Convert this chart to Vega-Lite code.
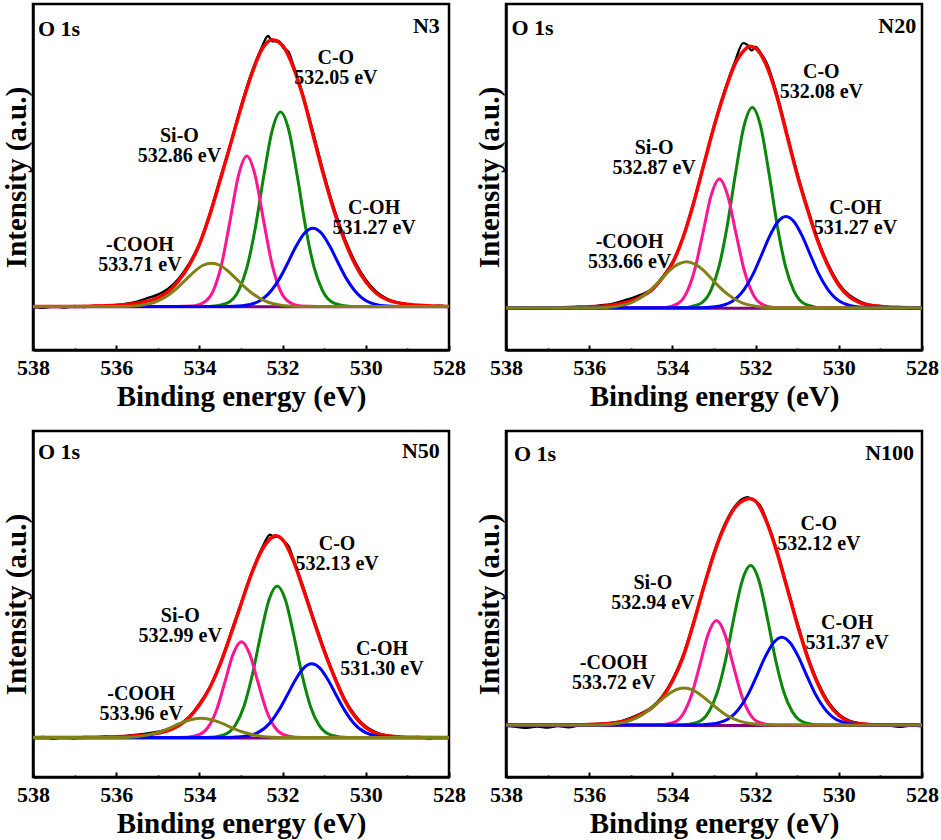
{
  "$schema": "https://vega.github.io/schema/vega-lite/v6.json",
  "padding": {"left": 0, "top": 2, "right": 0, "bottom": 0},
  "background": "white",
  "datasets": {
    "xps": [
      {"p":"N3","s":"k","e":538,"v":12.5},{"p":"N3","s":"k","e":537.75,"v":12.2},{"p":"N3","s":"k","e":537.5,"v":12.6},{"p":"N3","s":"k","e":537.25,"v":12.3},{"p":"N3","s":"k","e":537,"v":12.7},{"p":"N3","s":"k","e":536.75,"v":12.4},{"p":"N3","s":"k","e":536.5,"v":12.8},{"p":"N3","s":"k","e":536.25,"v":12.6},{"p":"N3","s":"k","e":536,"v":13.0},{"p":"N3","s":"k","e":535.75,"v":13.4},{"p":"N3","s":"k","e":535.5,"v":14.0},{"p":"N3","s":"k","e":535.25,"v":15.0},{"p":"N3","s":"k","e":535,"v":16.0},{"p":"N3","s":"k","e":534.75,"v":17.7},{"p":"N3","s":"k","e":534.5,"v":20.6},{"p":"N3","s":"k","e":534.25,"v":24.9},{"p":"N3","s":"k","e":534,"v":30.8},{"p":"N3","s":"k","e":533.75,"v":39.5},{"p":"N3","s":"k","e":533.5,"v":49.6},{"p":"N3","s":"k","e":533.25,"v":59.8},{"p":"N3","s":"k","e":533,"v":70.5},{"p":"N3","s":"k","e":532.75,"v":80.0},{"p":"N3","s":"k","e":532.5,"v":87.5},{"p":"N3","s":"k","e":532.35,"v":90.8},{"p":"N3","s":"k","e":532.25,"v":89.2},{"p":"N3","s":"k","e":532.1,"v":89.3},{"p":"N3","s":"k","e":532,"v":87.6},{"p":"N3","s":"k","e":531.85,"v":86.0},{"p":"N3","s":"k","e":531.75,"v":82.6},{"p":"N3","s":"k","e":531.5,"v":73.3},{"p":"N3","s":"k","e":531.25,"v":62.1},{"p":"N3","s":"k","e":531,"v":50.6},{"p":"N3","s":"k","e":530.75,"v":40.4},{"p":"N3","s":"k","e":530.5,"v":32.0},{"p":"N3","s":"k","e":530.25,"v":25.3},{"p":"N3","s":"k","e":530,"v":20.3},{"p":"N3","s":"k","e":529.75,"v":16.9},{"p":"N3","s":"k","e":529.5,"v":14.9},{"p":"N3","s":"k","e":529.25,"v":13.8},{"p":"N3","s":"k","e":529,"v":13.1},{"p":"N3","s":"k","e":528.75,"v":12.8},{"p":"N3","s":"k","e":528.5,"v":12.5},{"p":"N3","s":"k","e":528.25,"v":12.8},{"p":"N3","s":"k","e":528,"v":12.4},
      {"p":"N3","s":"r","e":538,"v":12.6},{"p":"N3","s":"r","e":537,"v":12.6},{"p":"N3","s":"r","e":536.5,"v":12.7},{"p":"N3","s":"r","e":536,"v":12.9},{"p":"N3","s":"r","e":535.5,"v":13.5},{"p":"N3","s":"r","e":535,"v":15.1},{"p":"N3","s":"r","e":534.75,"v":16.9},{"p":"N3","s":"r","e":534.5,"v":20.0},{"p":"N3","s":"r","e":534.25,"v":24.4},{"p":"N3","s":"r","e":534,"v":30.5},{"p":"N3","s":"r","e":533.75,"v":39.0},{"p":"N3","s":"r","e":533.5,"v":49.1},{"p":"N3","s":"r","e":533.25,"v":59.5},{"p":"N3","s":"r","e":533,"v":70.0},{"p":"N3","s":"r","e":532.75,"v":79.5},{"p":"N3","s":"r","e":532.5,"v":86.8},{"p":"N3","s":"r","e":532.25,"v":89.7},{"p":"N3","s":"r","e":532,"v":88.0},{"p":"N3","s":"r","e":531.75,"v":82.0},{"p":"N3","s":"r","e":531.5,"v":72.8},{"p":"N3","s":"r","e":531.25,"v":61.3},{"p":"N3","s":"r","e":531,"v":49.9},{"p":"N3","s":"r","e":530.75,"v":39.7},{"p":"N3","s":"r","e":530.5,"v":31.3},{"p":"N3","s":"r","e":530.25,"v":24.6},{"p":"N3","s":"r","e":530,"v":19.7},{"p":"N3","s":"r","e":529.75,"v":16.4},{"p":"N3","s":"r","e":529.5,"v":14.6},{"p":"N3","s":"r","e":529,"v":13.2},{"p":"N3","s":"r","e":528.5,"v":12.8},{"p":"N3","s":"r","e":528,"v":12.6},
      {"p":"N3","s":"bg","e":538,"v":12.5},{"p":"N3","s":"bg","e":528,"v":12.5},
      {"p":"N3","s":"co","e":528,"v":12.6},{"p":"N3","s":"co","e":530.35,"v":12.6},{"p":"N3","s":"co","e":530.75,"v":13.5},{"p":"N3","s":"co","e":531.05,"v":17.4},{"p":"N3","s":"co","e":531.25,"v":24.2},{"p":"N3","s":"co","e":531.45,"v":35.7},{"p":"N3","s":"co","e":531.65,"v":50.5},{"p":"N3","s":"co","e":531.85,"v":63.5},{"p":"N3","s":"co","e":532.05,"v":68.8},{"p":"N3","s":"co","e":532.25,"v":63.5},{"p":"N3","s":"co","e":532.45,"v":50.5},{"p":"N3","s":"co","e":532.65,"v":35.7},{"p":"N3","s":"co","e":532.85,"v":24.2},{"p":"N3","s":"co","e":533.05,"v":17.4},{"p":"N3","s":"co","e":533.35,"v":13.5},{"p":"N3","s":"co","e":533.75,"v":12.6},{"p":"N3","s":"co","e":538,"v":12.6},
      {"p":"N3","s":"sio","e":528,"v":12.6},{"p":"N3","s":"sio","e":531.16,"v":12.6},{"p":"N3","s":"sio","e":531.56,"v":12.7},{"p":"N3","s":"sio","e":531.86,"v":14.0},{"p":"N3","s":"sio","e":532.06,"v":17.3},{"p":"N3","s":"sio","e":532.26,"v":25.1},{"p":"N3","s":"sio","e":532.46,"v":37.6},{"p":"N3","s":"sio","e":532.66,"v":50.5},{"p":"N3","s":"sio","e":532.86,"v":56.1},{"p":"N3","s":"sio","e":533.06,"v":50.5},{"p":"N3","s":"sio","e":533.26,"v":37.6},{"p":"N3","s":"sio","e":533.46,"v":25.1},{"p":"N3","s":"sio","e":533.66,"v":17.3},{"p":"N3","s":"sio","e":533.86,"v":14.0},{"p":"N3","s":"sio","e":534.16,"v":12.7},{"p":"N3","s":"sio","e":534.56,"v":12.6},{"p":"N3","s":"sio","e":538,"v":12.6},
      {"p":"N3","s":"coh","e":528,"v":12.6},{"p":"N3","s":"coh","e":529.17,"v":12.6},{"p":"N3","s":"coh","e":529.57,"v":12.8},{"p":"N3","s":"coh","e":529.97,"v":14.1},{"p":"N3","s":"coh","e":530.27,"v":17.2},{"p":"N3","s":"coh","e":530.47,"v":20.7},{"p":"N3","s":"coh","e":530.67,"v":25.3},{"p":"N3","s":"coh","e":530.87,"v":30.1},{"p":"N3","s":"coh","e":531.07,"v":33.8},{"p":"N3","s":"coh","e":531.27,"v":35.2},{"p":"N3","s":"coh","e":531.47,"v":33.8},{"p":"N3","s":"coh","e":531.67,"v":30.1},{"p":"N3","s":"coh","e":531.87,"v":25.3},{"p":"N3","s":"coh","e":532.07,"v":20.7},{"p":"N3","s":"coh","e":532.27,"v":17.2},{"p":"N3","s":"coh","e":532.57,"v":14.1},{"p":"N3","s":"coh","e":532.97,"v":12.8},{"p":"N3","s":"coh","e":533.37,"v":12.6},{"p":"N3","s":"coh","e":538,"v":12.6},
      {"p":"N3","s":"cooh","e":528,"v":12.6},{"p":"N3","s":"cooh","e":531.61,"v":12.6},{"p":"N3","s":"cooh","e":532.01,"v":12.9},{"p":"N3","s":"cooh","e":532.41,"v":14.1},{"p":"N3","s":"cooh","e":532.71,"v":16.2},{"p":"N3","s":"cooh","e":532.91,"v":18.2},{"p":"N3","s":"cooh","e":533.11,"v":20.5},{"p":"N3","s":"cooh","e":533.31,"v":22.8},{"p":"N3","s":"cooh","e":533.51,"v":24.5},{"p":"N3","s":"cooh","e":533.71,"v":25.1},{"p":"N3","s":"cooh","e":533.91,"v":24.5},{"p":"N3","s":"cooh","e":534.11,"v":22.8},{"p":"N3","s":"cooh","e":534.31,"v":20.5},{"p":"N3","s":"cooh","e":534.51,"v":18.2},{"p":"N3","s":"cooh","e":534.71,"v":16.2},{"p":"N3","s":"cooh","e":535.01,"v":14.1},{"p":"N3","s":"cooh","e":535.41,"v":12.9},{"p":"N3","s":"cooh","e":535.81,"v":12.6},{"p":"N3","s":"cooh","e":538,"v":12.6},
      {"p":"N3","s":"lab","e":530.72,"v":81.5,"t":"C-O\n532.05 eV"},{"p":"N3","s":"lab","e":534.48,"v":59.0,"t":"Si-O\n532.86 eV"},{"p":"N3","s":"lab","e":529.8,"v":38.2,"t":"C-OH\n531.27 eV"},{"p":"N3","s":"lab","e":535.43,"v":27.6,"t":"-COOH\n533.71 eV"},
      {"p":"N3","s":"tl","e":537.88,"v":92.7,"t":"O 1s"},{"p":"N3","s":"tr","e":528.22,"v":93.6,"t":"N3"},

      {"p":"N20","s":"k","e":538,"v":12.0},{"p":"N20","s":"k","e":537.75,"v":12.4},{"p":"N20","s":"k","e":537.5,"v":11.9},{"p":"N20","s":"k","e":537.25,"v":12.3},{"p":"N20","s":"k","e":537,"v":12.0},{"p":"N20","s":"k","e":536.75,"v":12.4},{"p":"N20","s":"k","e":536.5,"v":12.1},{"p":"N20","s":"k","e":536.25,"v":12.5},{"p":"N20","s":"k","e":536,"v":12.4},{"p":"N20","s":"k","e":535.75,"v":12.9},{"p":"N20","s":"k","e":535.5,"v":13.2},{"p":"N20","s":"k","e":535.25,"v":14.0},{"p":"N20","s":"k","e":535,"v":14.9},{"p":"N20","s":"k","e":534.75,"v":16.0},{"p":"N20","s":"k","e":534.5,"v":17.6},{"p":"N20","s":"k","e":534.25,"v":20.9},{"p":"N20","s":"k","e":534,"v":25.4},{"p":"N20","s":"k","e":533.75,"v":32.5},{"p":"N20","s":"k","e":533.5,"v":42.4},{"p":"N20","s":"k","e":533.25,"v":53.6},{"p":"N20","s":"k","e":533,"v":64.8},{"p":"N20","s":"k","e":532.75,"v":74.8},{"p":"N20","s":"k","e":532.5,"v":83.2},{"p":"N20","s":"k","e":532.3,"v":88.7},{"p":"N20","s":"k","e":532.2,"v":88.2},{"p":"N20","s":"k","e":532.1,"v":86.6},{"p":"N20","s":"k","e":532,"v":87.6},{"p":"N20","s":"k","e":531.85,"v":85.3},{"p":"N20","s":"k","e":531.75,"v":83.4},{"p":"N20","s":"k","e":531.5,"v":74.5},{"p":"N20","s":"k","e":531.25,"v":62.8},{"p":"N20","s":"k","e":531,"v":51.2},{"p":"N20","s":"k","e":530.75,"v":41.0},{"p":"N20","s":"k","e":530.5,"v":31.8},{"p":"N20","s":"k","e":530.25,"v":24.6},{"p":"N20","s":"k","e":530,"v":19.2},{"p":"N20","s":"k","e":529.75,"v":15.9},{"p":"N20","s":"k","e":529.5,"v":14.1},{"p":"N20","s":"k","e":529.25,"v":13.0},{"p":"N20","s":"k","e":529,"v":12.7},{"p":"N20","s":"k","e":528.75,"v":12.1},{"p":"N20","s":"k","e":528.5,"v":12.4},{"p":"N20","s":"k","e":528.25,"v":11.9},{"p":"N20","s":"k","e":528,"v":12.2},
      {"p":"N20","s":"r","e":538,"v":12.2},{"p":"N20","s":"r","e":537,"v":12.2},{"p":"N20","s":"r","e":536.5,"v":12.3},{"p":"N20","s":"r","e":536,"v":12.5},{"p":"N20","s":"r","e":535.5,"v":12.9},{"p":"N20","s":"r","e":535,"v":14.1},{"p":"N20","s":"r","e":534.75,"v":15.4},{"p":"N20","s":"r","e":534.5,"v":17.3},{"p":"N20","s":"r","e":534.25,"v":20.7},{"p":"N20","s":"r","e":534,"v":25.0},{"p":"N20","s":"r","e":533.75,"v":32.3},{"p":"N20","s":"r","e":533.5,"v":42.0},{"p":"N20","s":"r","e":533.25,"v":53.3},{"p":"N20","s":"r","e":533,"v":64.5},{"p":"N20","s":"r","e":532.75,"v":74.3},{"p":"N20","s":"r","e":532.5,"v":82.5},{"p":"N20","s":"r","e":532.25,"v":86.9},{"p":"N20","s":"r","e":532.15,"v":87.8},{"p":"N20","s":"r","e":532,"v":87.2},{"p":"N20","s":"r","e":531.75,"v":82.5},{"p":"N20","s":"r","e":531.5,"v":73.8},{"p":"N20","s":"r","e":531.25,"v":62.2},{"p":"N20","s":"r","e":531,"v":50.6},{"p":"N20","s":"r","e":530.75,"v":40.5},{"p":"N20","s":"r","e":530.5,"v":31.3},{"p":"N20","s":"r","e":530.25,"v":24.1},{"p":"N20","s":"r","e":530,"v":18.7},{"p":"N20","s":"r","e":529.75,"v":15.4},{"p":"N20","s":"r","e":529.5,"v":13.7},{"p":"N20","s":"r","e":529,"v":12.6},{"p":"N20","s":"r","e":528.5,"v":12.3},{"p":"N20","s":"r","e":528,"v":12.2},
      {"p":"N20","s":"bg","e":538,"v":12.1},{"p":"N20","s":"bg","e":528,"v":12.1},
      {"p":"N20","s":"co","e":528,"v":12.2},{"p":"N20","s":"co","e":530.38,"v":12.2},{"p":"N20","s":"co","e":530.78,"v":13.1},{"p":"N20","s":"co","e":531.08,"v":17.1},{"p":"N20","s":"co","e":531.28,"v":24.1},{"p":"N20","s":"co","e":531.48,"v":36.0},{"p":"N20","s":"co","e":531.68,"v":51.2},{"p":"N20","s":"co","e":531.88,"v":64.7},{"p":"N20","s":"co","e":532.08,"v":70.1},{"p":"N20","s":"co","e":532.28,"v":64.7},{"p":"N20","s":"co","e":532.48,"v":51.2},{"p":"N20","s":"co","e":532.68,"v":36.0},{"p":"N20","s":"co","e":532.88,"v":24.1},{"p":"N20","s":"co","e":533.08,"v":17.1},{"p":"N20","s":"co","e":533.38,"v":13.1},{"p":"N20","s":"co","e":533.78,"v":12.2},{"p":"N20","s":"co","e":538,"v":12.2},
      {"p":"N20","s":"sio","e":528,"v":12.2},{"p":"N20","s":"sio","e":531.17,"v":12.2},{"p":"N20","s":"sio","e":531.57,"v":12.3},{"p":"N20","s":"sio","e":531.87,"v":13.4},{"p":"N20","s":"sio","e":532.07,"v":16.3},{"p":"N20","s":"sio","e":532.27,"v":22.9},{"p":"N20","s":"sio","e":532.47,"v":33.6},{"p":"N20","s":"sio","e":532.67,"v":44.6},{"p":"N20","s":"sio","e":532.87,"v":49.4},{"p":"N20","s":"sio","e":533.07,"v":44.6},{"p":"N20","s":"sio","e":533.27,"v":33.6},{"p":"N20","s":"sio","e":533.47,"v":22.9},{"p":"N20","s":"sio","e":533.67,"v":16.3},{"p":"N20","s":"sio","e":533.87,"v":13.4},{"p":"N20","s":"sio","e":534.17,"v":12.3},{"p":"N20","s":"sio","e":534.57,"v":12.2},{"p":"N20","s":"sio","e":538,"v":12.2},
      {"p":"N20","s":"coh","e":528,"v":12.2},{"p":"N20","s":"coh","e":529.17,"v":12.2},{"p":"N20","s":"coh","e":529.57,"v":12.5},{"p":"N20","s":"coh","e":529.97,"v":14.0},{"p":"N20","s":"coh","e":530.27,"v":17.6},{"p":"N20","s":"coh","e":530.47,"v":21.7},{"p":"N20","s":"coh","e":530.67,"v":27.1},{"p":"N20","s":"coh","e":530.87,"v":32.7},{"p":"N20","s":"coh","e":531.07,"v":37.0},{"p":"N20","s":"coh","e":531.27,"v":38.6},{"p":"N20","s":"coh","e":531.47,"v":37.0},{"p":"N20","s":"coh","e":531.67,"v":32.7},{"p":"N20","s":"coh","e":531.87,"v":27.1},{"p":"N20","s":"coh","e":532.07,"v":21.7},{"p":"N20","s":"coh","e":532.27,"v":17.6},{"p":"N20","s":"coh","e":532.57,"v":14.0},{"p":"N20","s":"coh","e":532.97,"v":12.5},{"p":"N20","s":"coh","e":533.37,"v":12.2},{"p":"N20","s":"coh","e":538,"v":12.2},
      {"p":"N20","s":"cooh","e":528,"v":12.2},{"p":"N20","s":"cooh","e":531.56,"v":12.2},{"p":"N20","s":"cooh","e":531.96,"v":12.6},{"p":"N20","s":"cooh","e":532.36,"v":13.8},{"p":"N20","s":"cooh","e":532.66,"v":16.0},{"p":"N20","s":"cooh","e":532.86,"v":18.1},{"p":"N20","s":"cooh","e":533.06,"v":20.6},{"p":"N20","s":"cooh","e":533.26,"v":23.1},{"p":"N20","s":"cooh","e":533.46,"v":24.8},{"p":"N20","s":"cooh","e":533.66,"v":25.5},{"p":"N20","s":"cooh","e":533.86,"v":24.8},{"p":"N20","s":"cooh","e":534.06,"v":23.1},{"p":"N20","s":"cooh","e":534.26,"v":20.6},{"p":"N20","s":"cooh","e":534.46,"v":18.1},{"p":"N20","s":"cooh","e":534.66,"v":16.0},{"p":"N20","s":"cooh","e":534.96,"v":13.8},{"p":"N20","s":"cooh","e":535.36,"v":12.6},{"p":"N20","s":"cooh","e":535.76,"v":12.2},{"p":"N20","s":"cooh","e":538,"v":12.2},
      {"p":"N20","s":"lab","e":530.42,"v":77.5,"t":"C-O\n532.08 eV"},{"p":"N20","s":"lab","e":534.44,"v":55.6,"t":"Si-O\n532.87 eV"},{"p":"N20","s":"lab","e":529.6,"v":38.1,"t":"C-OH\n531.27 eV"},{"p":"N20","s":"lab","e":535.03,"v":28.4,"t":"-COOH\n533.66 eV"},
      {"p":"N20","s":"tl","e":537.87,"v":93.1,"t":"O 1s"},{"p":"N20","s":"tr","e":528.14,"v":93.6,"t":"N20"},

      {"p":"N50","s":"k","e":538,"v":11.2},{"p":"N50","s":"k","e":537.75,"v":11.6},{"p":"N50","s":"k","e":537.5,"v":11.1},{"p":"N50","s":"k","e":537.25,"v":11.5},{"p":"N50","s":"k","e":537,"v":11.2},{"p":"N50","s":"k","e":536.75,"v":11.6},{"p":"N50","s":"k","e":536.5,"v":11.3},{"p":"N50","s":"k","e":536.25,"v":11.7},{"p":"N50","s":"k","e":536,"v":11.5},{"p":"N50","s":"k","e":535.75,"v":11.9},{"p":"N50","s":"k","e":535.5,"v":12.2},{"p":"N50","s":"k","e":535.25,"v":12.6},{"p":"N50","s":"k","e":535,"v":13.1},{"p":"N50","s":"k","e":534.75,"v":13.8},{"p":"N50","s":"k","e":534.5,"v":15.1},{"p":"N50","s":"k","e":534.25,"v":17.4},{"p":"N50","s":"k","e":534,"v":21.2},{"p":"N50","s":"k","e":533.75,"v":26.0},{"p":"N50","s":"k","e":533.5,"v":32.9},{"p":"N50","s":"k","e":533.25,"v":41.4},{"p":"N50","s":"k","e":533,"v":50.2},{"p":"N50","s":"k","e":532.75,"v":58.9},{"p":"N50","s":"k","e":532.5,"v":66.0},{"p":"N50","s":"k","e":532.3,"v":70.0},{"p":"N50","s":"k","e":532.2,"v":69.3},{"p":"N50","s":"k","e":532.1,"v":69.6},{"p":"N50","s":"k","e":532,"v":68.4},{"p":"N50","s":"k","e":531.85,"v":66.6},{"p":"N50","s":"k","e":531.75,"v":63.3},{"p":"N50","s":"k","e":531.5,"v":54.8},{"p":"N50","s":"k","e":531.25,"v":45.6},{"p":"N50","s":"k","e":531,"v":36.9},{"p":"N50","s":"k","e":530.75,"v":29.1},{"p":"N50","s":"k","e":530.5,"v":22.4},{"p":"N50","s":"k","e":530.25,"v":17.7},{"p":"N50","s":"k","e":530,"v":14.6},{"p":"N50","s":"k","e":529.75,"v":12.9},{"p":"N50","s":"k","e":529.5,"v":12.0},{"p":"N50","s":"k","e":529.25,"v":11.7},{"p":"N50","s":"k","e":529,"v":11.4},{"p":"N50","s":"k","e":528.75,"v":11.6},{"p":"N50","s":"k","e":528.5,"v":11.2},{"p":"N50","s":"k","e":528.25,"v":11.5},{"p":"N50","s":"k","e":528,"v":11.3},
      {"p":"N50","s":"r","e":538,"v":11.4},{"p":"N50","s":"r","e":537,"v":11.4},{"p":"N50","s":"r","e":536.5,"v":11.5},{"p":"N50","s":"r","e":536,"v":11.6},{"p":"N50","s":"r","e":535.5,"v":11.9},{"p":"N50","s":"r","e":535,"v":12.6},{"p":"N50","s":"r","e":534.75,"v":13.4},{"p":"N50","s":"r","e":534.5,"v":14.8},{"p":"N50","s":"r","e":534.25,"v":17.1},{"p":"N50","s":"r","e":534,"v":20.8},{"p":"N50","s":"r","e":533.75,"v":25.8},{"p":"N50","s":"r","e":533.5,"v":32.6},{"p":"N50","s":"r","e":533.25,"v":41.0},{"p":"N50","s":"r","e":533,"v":49.9},{"p":"N50","s":"r","e":532.75,"v":58.6},{"p":"N50","s":"r","e":532.5,"v":65.5},{"p":"N50","s":"r","e":532.25,"v":69.3},{"p":"N50","s":"r","e":532.18,"v":69.7},{"p":"N50","s":"r","e":532,"v":68.6},{"p":"N50","s":"r","e":531.75,"v":62.8},{"p":"N50","s":"r","e":531.5,"v":54.2},{"p":"N50","s":"r","e":531.25,"v":45.1},{"p":"N50","s":"r","e":531,"v":36.4},{"p":"N50","s":"r","e":530.75,"v":28.7},{"p":"N50","s":"r","e":530.5,"v":22.0},{"p":"N50","s":"r","e":530.25,"v":17.3},{"p":"N50","s":"r","e":530,"v":14.3},{"p":"N50","s":"r","e":529.75,"v":12.6},{"p":"N50","s":"r","e":529.5,"v":11.9},{"p":"N50","s":"r","e":529,"v":11.5},{"p":"N50","s":"r","e":528,"v":11.4},
      {"p":"N50","s":"bg","e":538,"v":11.3},{"p":"N50","s":"bg","e":528,"v":11.3},
      {"p":"N50","s":"co","e":528,"v":11.4},{"p":"N50","s":"co","e":530.43,"v":11.4},{"p":"N50","s":"co","e":530.83,"v":12.1},{"p":"N50","s":"co","e":531.13,"v":15.1},{"p":"N50","s":"co","e":531.33,"v":20.4},{"p":"N50","s":"co","e":531.53,"v":29.4},{"p":"N50","s":"co","e":531.73,"v":40.9},{"p":"N50","s":"co","e":531.93,"v":51.1},{"p":"N50","s":"co","e":532.13,"v":55.2},{"p":"N50","s":"co","e":532.33,"v":51.1},{"p":"N50","s":"co","e":532.53,"v":40.9},{"p":"N50","s":"co","e":532.73,"v":29.4},{"p":"N50","s":"co","e":532.93,"v":20.4},{"p":"N50","s":"co","e":533.13,"v":15.1},{"p":"N50","s":"co","e":533.43,"v":12.1},{"p":"N50","s":"co","e":533.83,"v":11.4},{"p":"N50","s":"co","e":538,"v":11.4},
      {"p":"N50","s":"sio","e":528,"v":11.4},{"p":"N50","s":"sio","e":531.29,"v":11.4},{"p":"N50","s":"sio","e":531.69,"v":11.5},{"p":"N50","s":"sio","e":531.99,"v":12.3},{"p":"N50","s":"sio","e":532.19,"v":14.4},{"p":"N50","s":"sio","e":532.39,"v":19.3},{"p":"N50","s":"sio","e":532.59,"v":27.3},{"p":"N50","s":"sio","e":532.79,"v":35.5},{"p":"N50","s":"sio","e":532.99,"v":39.1},{"p":"N50","s":"sio","e":533.19,"v":35.5},{"p":"N50","s":"sio","e":533.39,"v":27.3},{"p":"N50","s":"sio","e":533.59,"v":19.3},{"p":"N50","s":"sio","e":533.79,"v":14.4},{"p":"N50","s":"sio","e":533.99,"v":12.3},{"p":"N50","s":"sio","e":534.29,"v":11.5},{"p":"N50","s":"sio","e":534.69,"v":11.4},{"p":"N50","s":"sio","e":538,"v":11.4},
      {"p":"N50","s":"coh","e":528,"v":11.4},{"p":"N50","s":"coh","e":529.2,"v":11.4},{"p":"N50","s":"coh","e":529.6,"v":11.6},{"p":"N50","s":"coh","e":530.0,"v":12.8},{"p":"N50","s":"coh","e":530.3,"v":15.7},{"p":"N50","s":"coh","e":530.5,"v":19.1},{"p":"N50","s":"coh","e":530.7,"v":23.4},{"p":"N50","s":"coh","e":530.9,"v":27.9},{"p":"N50","s":"coh","e":531.1,"v":31.4},{"p":"N50","s":"coh","e":531.3,"v":32.7},{"p":"N50","s":"coh","e":531.5,"v":31.4},{"p":"N50","s":"coh","e":531.7,"v":27.9},{"p":"N50","s":"coh","e":531.9,"v":23.4},{"p":"N50","s":"coh","e":532.1,"v":19.1},{"p":"N50","s":"coh","e":532.3,"v":15.7},{"p":"N50","s":"coh","e":532.6,"v":12.8},{"p":"N50","s":"coh","e":533.0,"v":11.6},{"p":"N50","s":"coh","e":533.4,"v":11.4},{"p":"N50","s":"coh","e":538,"v":11.4},
      {"p":"N50","s":"cooh","e":528,"v":11.4},{"p":"N50","s":"cooh","e":531.86,"v":11.4},{"p":"N50","s":"cooh","e":532.26,"v":11.5},{"p":"N50","s":"cooh","e":532.66,"v":12.1},{"p":"N50","s":"cooh","e":532.96,"v":13.0},{"p":"N50","s":"cooh","e":533.16,"v":13.9},{"p":"N50","s":"cooh","e":533.36,"v":15.0},{"p":"N50","s":"cooh","e":533.56,"v":16.0},{"p":"N50","s":"cooh","e":533.76,"v":16.7},{"p":"N50","s":"cooh","e":533.96,"v":17.0},{"p":"N50","s":"cooh","e":534.16,"v":16.7},{"p":"N50","s":"cooh","e":534.36,"v":16.0},{"p":"N50","s":"cooh","e":534.56,"v":15.0},{"p":"N50","s":"cooh","e":534.76,"v":13.9},{"p":"N50","s":"cooh","e":534.96,"v":13.0},{"p":"N50","s":"cooh","e":535.26,"v":12.1},{"p":"N50","s":"cooh","e":535.66,"v":11.5},{"p":"N50","s":"cooh","e":536.06,"v":11.4},{"p":"N50","s":"cooh","e":538,"v":11.4},
      {"p":"N50","s":"lab","e":530.69,"v":64.5,"t":"C-O\n532.13 eV"},{"p":"N50","s":"lab","e":534.46,"v":43.6,"t":"Si-O\n532.99 eV"},{"p":"N50","s":"lab","e":529.61,"v":34.0,"t":"C-OH\n531.30 eV"},{"p":"N50","s":"lab","e":535.4,"v":21.0,"t":"-COOH\n533.96 eV"},
      {"p":"N50","s":"tl","e":537.88,"v":94.0,"t":"O 1s"},{"p":"N50","s":"tr","e":528.22,"v":94.2,"t":"N50"},

      {"p":"N100","s":"k","e":538,"v":14.8},{"p":"N100","s":"k","e":537.75,"v":14.5},{"p":"N100","s":"k","e":537.5,"v":14.2},{"p":"N100","s":"k","e":537.25,"v":14.6},{"p":"N100","s":"k","e":537,"v":14.3},{"p":"N100","s":"k","e":536.75,"v":14.7},{"p":"N100","s":"k","e":536.5,"v":14.4},{"p":"N100","s":"k","e":536.25,"v":14.9},{"p":"N100","s":"k","e":536,"v":15.1},{"p":"N100","s":"k","e":535.75,"v":15.4},{"p":"N100","s":"k","e":535.5,"v":15.6},{"p":"N100","s":"k","e":535.25,"v":16.1},{"p":"N100","s":"k","e":535,"v":17.1},{"p":"N100","s":"k","e":534.75,"v":18.4},{"p":"N100","s":"k","e":534.5,"v":20.2},{"p":"N100","s":"k","e":534.25,"v":23.2},{"p":"N100","s":"k","e":534,"v":28.1},{"p":"N100","s":"k","e":533.75,"v":34.9},{"p":"N100","s":"k","e":533.5,"v":44.4},{"p":"N100","s":"k","e":533.25,"v":55.0},{"p":"N100","s":"k","e":533,"v":64.9},{"p":"N100","s":"k","e":532.75,"v":72.8},{"p":"N100","s":"k","e":532.5,"v":78.2},{"p":"N100","s":"k","e":532.3,"v":80.5},{"p":"N100","s":"k","e":532.2,"v":80.9},{"p":"N100","s":"k","e":532.1,"v":80.3},{"p":"N100","s":"k","e":532,"v":79.8},{"p":"N100","s":"k","e":531.85,"v":77.6},{"p":"N100","s":"k","e":531.75,"v":74.6},{"p":"N100","s":"k","e":531.5,"v":66.0},{"p":"N100","s":"k","e":531.25,"v":55.4},{"p":"N100","s":"k","e":531,"v":44.7},{"p":"N100","s":"k","e":530.75,"v":35.0},{"p":"N100","s":"k","e":530.5,"v":27.3},{"p":"N100","s":"k","e":530.25,"v":21.7},{"p":"N100","s":"k","e":530,"v":18.2},{"p":"N100","s":"k","e":529.75,"v":16.3},{"p":"N100","s":"k","e":529.5,"v":15.5},{"p":"N100","s":"k","e":529.25,"v":15.2},{"p":"N100","s":"k","e":529,"v":15.0},{"p":"N100","s":"k","e":528.75,"v":14.8},{"p":"N100","s":"k","e":528.5,"v":14.5},{"p":"N100","s":"k","e":528.25,"v":14.9},{"p":"N100","s":"k","e":528,"v":14.7},
      {"p":"N100","s":"r","e":538,"v":15.0},{"p":"N100","s":"r","e":537,"v":15.0},{"p":"N100","s":"r","e":536.5,"v":15.1},{"p":"N100","s":"r","e":536,"v":15.2},{"p":"N100","s":"r","e":535.5,"v":15.5},{"p":"N100","s":"r","e":535,"v":16.7},{"p":"N100","s":"r","e":534.75,"v":18.1},{"p":"N100","s":"r","e":534.5,"v":19.9},{"p":"N100","s":"r","e":534.25,"v":22.9},{"p":"N100","s":"r","e":534,"v":27.7},{"p":"N100","s":"r","e":533.75,"v":34.5},{"p":"N100","s":"r","e":533.5,"v":44.1},{"p":"N100","s":"r","e":533.25,"v":54.7},{"p":"N100","s":"r","e":533,"v":64.5},{"p":"N100","s":"r","e":532.75,"v":72.3},{"p":"N100","s":"r","e":532.5,"v":77.8},{"p":"N100","s":"r","e":532.25,"v":80.2},{"p":"N100","s":"r","e":532.15,"v":80.5},{"p":"N100","s":"r","e":532,"v":79.7},{"p":"N100","s":"r","e":531.75,"v":74.2},{"p":"N100","s":"r","e":531.5,"v":65.5},{"p":"N100","s":"r","e":531.25,"v":54.9},{"p":"N100","s":"r","e":531,"v":44.2},{"p":"N100","s":"r","e":530.75,"v":34.5},{"p":"N100","s":"r","e":530.5,"v":26.8},{"p":"N100","s":"r","e":530.25,"v":21.2},{"p":"N100","s":"r","e":530,"v":17.8},{"p":"N100","s":"r","e":529.75,"v":16.0},{"p":"N100","s":"r","e":529.5,"v":15.4},{"p":"N100","s":"r","e":529,"v":15.1},{"p":"N100","s":"r","e":528,"v":15.0},
      {"p":"N100","s":"bg","e":538,"v":14.9},{"p":"N100","s":"bg","e":528,"v":14.9},
      {"p":"N100","s":"co","e":528,"v":15.0},{"p":"N100","s":"co","e":530.42,"v":15.0},{"p":"N100","s":"co","e":530.82,"v":15.7},{"p":"N100","s":"co","e":531.12,"v":18.9},{"p":"N100","s":"co","e":531.32,"v":24.5},{"p":"N100","s":"co","e":531.52,"v":33.9},{"p":"N100","s":"co","e":531.72,"v":46.1},{"p":"N100","s":"co","e":531.92,"v":56.8},{"p":"N100","s":"co","e":532.12,"v":61.1},{"p":"N100","s":"co","e":532.32,"v":56.8},{"p":"N100","s":"co","e":532.52,"v":46.1},{"p":"N100","s":"co","e":532.72,"v":33.9},{"p":"N100","s":"co","e":532.92,"v":24.5},{"p":"N100","s":"co","e":533.12,"v":18.9},{"p":"N100","s":"co","e":533.42,"v":15.7},{"p":"N100","s":"co","e":533.82,"v":15.0},{"p":"N100","s":"co","e":538,"v":15.0},
      {"p":"N100","s":"sio","e":528,"v":15.0},{"p":"N100","s":"sio","e":531.24,"v":15.0},{"p":"N100","s":"sio","e":531.64,"v":15.1},{"p":"N100","s":"sio","e":531.94,"v":15.9},{"p":"N100","s":"sio","e":532.14,"v":18.3},{"p":"N100","s":"sio","e":532.34,"v":23.7},{"p":"N100","s":"sio","e":532.54,"v":32.4},{"p":"N100","s":"sio","e":532.74,"v":41.3},{"p":"N100","s":"sio","e":532.94,"v":45.2},{"p":"N100","s":"sio","e":533.14,"v":41.3},{"p":"N100","s":"sio","e":533.34,"v":32.4},{"p":"N100","s":"sio","e":533.54,"v":23.7},{"p":"N100","s":"sio","e":533.74,"v":18.3},{"p":"N100","s":"sio","e":533.94,"v":15.9},{"p":"N100","s":"sio","e":534.24,"v":15.1},{"p":"N100","s":"sio","e":534.64,"v":15.0},{"p":"N100","s":"sio","e":538,"v":15.0},
      {"p":"N100","s":"coh","e":528,"v":15.0},{"p":"N100","s":"coh","e":529.27,"v":15.0},{"p":"N100","s":"coh","e":529.67,"v":15.3},{"p":"N100","s":"coh","e":530.07,"v":16.7},{"p":"N100","s":"coh","e":530.37,"v":20.2},{"p":"N100","s":"coh","e":530.57,"v":24.1},{"p":"N100","s":"coh","e":530.77,"v":29.3},{"p":"N100","s":"coh","e":530.97,"v":34.7},{"p":"N100","s":"coh","e":531.17,"v":38.8},{"p":"N100","s":"coh","e":531.37,"v":40.4},{"p":"N100","s":"coh","e":531.57,"v":38.8},{"p":"N100","s":"coh","e":531.77,"v":34.7},{"p":"N100","s":"coh","e":531.97,"v":29.3},{"p":"N100","s":"coh","e":532.17,"v":24.1},{"p":"N100","s":"coh","e":532.37,"v":20.2},{"p":"N100","s":"coh","e":532.67,"v":16.7},{"p":"N100","s":"coh","e":533.07,"v":15.3},{"p":"N100","s":"coh","e":533.47,"v":15.0},{"p":"N100","s":"coh","e":538,"v":15.0},
      {"p":"N100","s":"cooh","e":528,"v":15.0},{"p":"N100","s":"cooh","e":531.62,"v":15.0},{"p":"N100","s":"cooh","e":532.02,"v":15.3},{"p":"N100","s":"cooh","e":532.42,"v":16.3},{"p":"N100","s":"cooh","e":532.72,"v":18.0},{"p":"N100","s":"cooh","e":532.92,"v":19.8},{"p":"N100","s":"cooh","e":533.12,"v":21.8},{"p":"N100","s":"cooh","e":533.32,"v":23.7},{"p":"N100","s":"cooh","e":533.52,"v":25.2},{"p":"N100","s":"cooh","e":533.72,"v":25.7},{"p":"N100","s":"cooh","e":533.92,"v":25.2},{"p":"N100","s":"cooh","e":534.12,"v":23.7},{"p":"N100","s":"cooh","e":534.32,"v":21.8},{"p":"N100","s":"cooh","e":534.52,"v":19.8},{"p":"N100","s":"cooh","e":534.72,"v":18.0},{"p":"N100","s":"cooh","e":535.02,"v":16.3},{"p":"N100","s":"cooh","e":535.42,"v":15.3},{"p":"N100","s":"cooh","e":535.82,"v":15.0},{"p":"N100","s":"cooh","e":538,"v":15.0},
      {"p":"N100","s":"lab","e":530.48,"v":70.1,"t":"C-O\n532.12 eV"},{"p":"N100","s":"lab","e":534.47,"v":53.3,"t":"Si-O\n532.94 eV"},{"p":"N100","s":"lab","e":529.8,"v":41.7,"t":"C-OH\n531.37 eV"},{"p":"N100","s":"lab","e":535.41,"v":30.1,"t":"-COOH\n533.72 eV"},
      {"p":"N100","s":"tl","e":537.81,"v":93.3,"t":"O 1s"},{"p":"N100","s":"tr","e":528.19,"v":93.7,"t":"N100"}
    ]
  },
  "data": {"name": "xps"},
  "columns": 2,
  "spacing": {"row": 81, "column": 57},
  "bounds": "flush",
  "concat": [
    {
      "width": 416, "height": 346,
      "transform": [{"filter": "datum.p == 'N3'"}],
      "encoding": {
        "x": {"field": "e", "type": "quantitative", "scale": {"domain": [528, 538], "reverse": true, "nice": false},
              "axis": {"title": "Binding energy (eV)", "values": [538, 537, 536, 535, 534, 533, 532, 531, 530, 529, 528], "labelExpr": "datum.value % 2 == 0 ? datum.label : ''", "tickSize": {"condition": {"test": "datum.value % 2 == 0", "value": -5}, "value": -2}}},
        "y": {"field": "v", "type": "quantitative", "scale": {"domain": [0, 100], "nice": false}, "axis": {"title": "Intensity (a.u.)"}}
      },
      "layer": [
        {"transform": [{"filter": "datum.s == 'k'"}], "mark": {"type": "line", "color": "black", "strokeWidth": 2.4, "interpolate": "monotone"}},
        {"transform": [{"filter": "datum.s == 'r'"}], "mark": {"type": "line", "color": "#ff0000", "strokeWidth": 3.5, "interpolate": "monotone"}},
        {"transform": [{"filter": "indexof(['bg','co','sio','coh','cooh'], datum.s) >= 0"}], "mark": {"type": "line", "strokeWidth": 3, "interpolate": "monotone"},
         "encoding": {"color": {"field": "s", "type": "nominal", "scale": {"domain": ["bg", "coh", "co", "sio", "cooh"], "range": ["#800080", "#0000ff", "#0a870a", "#ff1493", "#808014"]}, "legend": null}}},
        {"transform": [{"filter": "datum.s == 'lab'"}], "mark": {"type": "text", "fontSize": 20, "lineHeight": 20, "lineBreak": "\n", "align": "center", "baseline": "middle", "dy": -10}, "encoding": {"text": {"field": "t"}}},
        {"transform": [{"filter": "datum.s == 'tl'"}], "mark": {"type": "text", "fontSize": 22, "align": "left", "baseline": "middle"}, "encoding": {"text": {"field": "t"}}},
        {"transform": [{"filter": "datum.s == 'tr'"}], "mark": {"type": "text", "fontSize": 22, "align": "right", "baseline": "middle"}, "encoding": {"text": {"field": "t"}}}
      ]
    },
    {
      "width": 416, "height": 346,
      "transform": [{"filter": "datum.p == 'N20'"}],
      "encoding": {
        "x": {"field": "e", "type": "quantitative", "scale": {"domain": [528, 538], "reverse": true, "nice": false},
              "axis": {"title": "Binding energy (eV)", "values": [538, 537, 536, 535, 534, 533, 532, 531, 530, 529, 528], "labelExpr": "datum.value % 2 == 0 ? datum.label : ''", "tickSize": {"condition": {"test": "datum.value % 2 == 0", "value": -5}, "value": -2}}},
        "y": {"field": "v", "type": "quantitative", "scale": {"domain": [0, 100], "nice": false}, "axis": {"title": "Intensity (a.u.)"}}
      },
      "layer": [
        {"transform": [{"filter": "datum.s == 'k'"}], "mark": {"type": "line", "color": "black", "strokeWidth": 2.4, "interpolate": "monotone"}},
        {"transform": [{"filter": "datum.s == 'r'"}], "mark": {"type": "line", "color": "#ff0000", "strokeWidth": 3.5, "interpolate": "monotone"}},
        {"transform": [{"filter": "indexof(['bg','co','sio','coh','cooh'], datum.s) >= 0"}], "mark": {"type": "line", "strokeWidth": 3, "interpolate": "monotone"},
         "encoding": {"color": {"field": "s", "type": "nominal", "scale": {"domain": ["bg", "coh", "co", "sio", "cooh"], "range": ["#800080", "#0000ff", "#0a870a", "#ff1493", "#808014"]}, "legend": null}}},
        {"transform": [{"filter": "datum.s == 'lab'"}], "mark": {"type": "text", "fontSize": 20, "lineHeight": 20, "lineBreak": "\n", "align": "center", "baseline": "middle", "dy": -10}, "encoding": {"text": {"field": "t"}}},
        {"transform": [{"filter": "datum.s == 'tl'"}], "mark": {"type": "text", "fontSize": 22, "align": "left", "baseline": "middle"}, "encoding": {"text": {"field": "t"}}},
        {"transform": [{"filter": "datum.s == 'tr'"}], "mark": {"type": "text", "fontSize": 22, "align": "right", "baseline": "middle"}, "encoding": {"text": {"field": "t"}}}
      ]
    },
    {
      "width": 416, "height": 346,
      "transform": [{"filter": "datum.p == 'N50'"}],
      "encoding": {
        "x": {"field": "e", "type": "quantitative", "scale": {"domain": [528, 538], "reverse": true, "nice": false},
              "axis": {"title": "Binding energy (eV)", "values": [538, 537, 536, 535, 534, 533, 532, 531, 530, 529, 528], "labelExpr": "datum.value % 2 == 0 ? datum.label : ''", "tickSize": {"condition": {"test": "datum.value % 2 == 0", "value": -5}, "value": -2}}},
        "y": {"field": "v", "type": "quantitative", "scale": {"domain": [0, 100], "nice": false}, "axis": {"title": "Intensity (a.u.)"}}
      },
      "layer": [
        {"transform": [{"filter": "datum.s == 'k'"}], "mark": {"type": "line", "color": "black", "strokeWidth": 2.4, "interpolate": "monotone"}},
        {"transform": [{"filter": "datum.s == 'r'"}], "mark": {"type": "line", "color": "#ff0000", "strokeWidth": 3.5, "interpolate": "monotone"}},
        {"transform": [{"filter": "indexof(['bg','co','sio','coh','cooh'], datum.s) >= 0"}], "mark": {"type": "line", "strokeWidth": 3, "interpolate": "monotone"},
         "encoding": {"color": {"field": "s", "type": "nominal", "scale": {"domain": ["bg", "coh", "co", "sio", "cooh"], "range": ["#800080", "#0000ff", "#0a870a", "#ff1493", "#808014"]}, "legend": null}}},
        {"transform": [{"filter": "datum.s == 'lab'"}], "mark": {"type": "text", "fontSize": 20, "lineHeight": 20, "lineBreak": "\n", "align": "center", "baseline": "middle", "dy": -10}, "encoding": {"text": {"field": "t"}}},
        {"transform": [{"filter": "datum.s == 'tl'"}], "mark": {"type": "text", "fontSize": 22, "align": "left", "baseline": "middle"}, "encoding": {"text": {"field": "t"}}},
        {"transform": [{"filter": "datum.s == 'tr'"}], "mark": {"type": "text", "fontSize": 22, "align": "right", "baseline": "middle"}, "encoding": {"text": {"field": "t"}}}
      ]
    },
    {
      "width": 416, "height": 346,
      "transform": [{"filter": "datum.p == 'N100'"}],
      "encoding": {
        "x": {"field": "e", "type": "quantitative", "scale": {"domain": [528, 538], "reverse": true, "nice": false},
              "axis": {"title": "Binding energy (eV)", "values": [538, 537, 536, 535, 534, 533, 532, 531, 530, 529, 528], "labelExpr": "datum.value % 2 == 0 ? datum.label : ''", "tickSize": {"condition": {"test": "datum.value % 2 == 0", "value": -5}, "value": -2}}},
        "y": {"field": "v", "type": "quantitative", "scale": {"domain": [0, 100], "nice": false}, "axis": {"title": "Intensity (a.u.)"}}
      },
      "layer": [
        {"transform": [{"filter": "datum.s == 'k'"}], "mark": {"type": "line", "color": "black", "strokeWidth": 2.4, "interpolate": "monotone"}},
        {"transform": [{"filter": "datum.s == 'r'"}], "mark": {"type": "line", "color": "#ff0000", "strokeWidth": 3.5, "interpolate": "monotone"}},
        {"transform": [{"filter": "indexof(['bg','co','sio','coh','cooh'], datum.s) >= 0"}], "mark": {"type": "line", "strokeWidth": 3, "interpolate": "monotone"},
         "encoding": {"color": {"field": "s", "type": "nominal", "scale": {"domain": ["bg", "coh", "co", "sio", "cooh"], "range": ["#800080", "#0000ff", "#0a870a", "#ff1493", "#808014"]}, "legend": null}}},
        {"transform": [{"filter": "datum.s == 'lab'"}], "mark": {"type": "text", "fontSize": 20, "lineHeight": 20, "lineBreak": "\n", "align": "center", "baseline": "middle", "dy": -10}, "encoding": {"text": {"field": "t"}}},
        {"transform": [{"filter": "datum.s == 'tl'"}], "mark": {"type": "text", "fontSize": 22, "align": "left", "baseline": "middle"}, "encoding": {"text": {"field": "t"}}},
        {"transform": [{"filter": "datum.s == 'tr'"}], "mark": {"type": "text", "fontSize": 22, "align": "right", "baseline": "middle"}, "encoding": {"text": {"field": "t"}}}
      ]
    }
  ],
  "config": {
    "view": {"stroke": "black", "strokeWidth": 2.5},
    "font": "Liberation Serif",
    "axis": {
      "grid": false,
      "domainColor": "black",
      "domainWidth": 2.5,
      "labelFont": "Liberation Serif",
      "labelFontWeight": "bold",
      "labelColor": "black",
      "titleFont": "Liberation Serif",
      "titleFontWeight": "bold",
      "titleColor": "black",
      "titleFontSize": 29
    },
    "axisX": {
      "tickWidth": 2,
      "tickColor": "black",
      "labelFontSize": 22,
      "labelBaseline": "alphabetic",
      "labelPadding": 29,
      "labelFlush": false,
      "labelOverlap": false,
      "titleBaseline": "alphabetic",
      "titleY": 55
    },
    "axisY": {
      "labels": false,
      "ticks": false,
      "titleBaseline": "alphabetic",
      "titleX": -8
    },
    "text": {"font": "Liberation Serif", "fontWeight": "bold", "color": "black"}
  }
}
